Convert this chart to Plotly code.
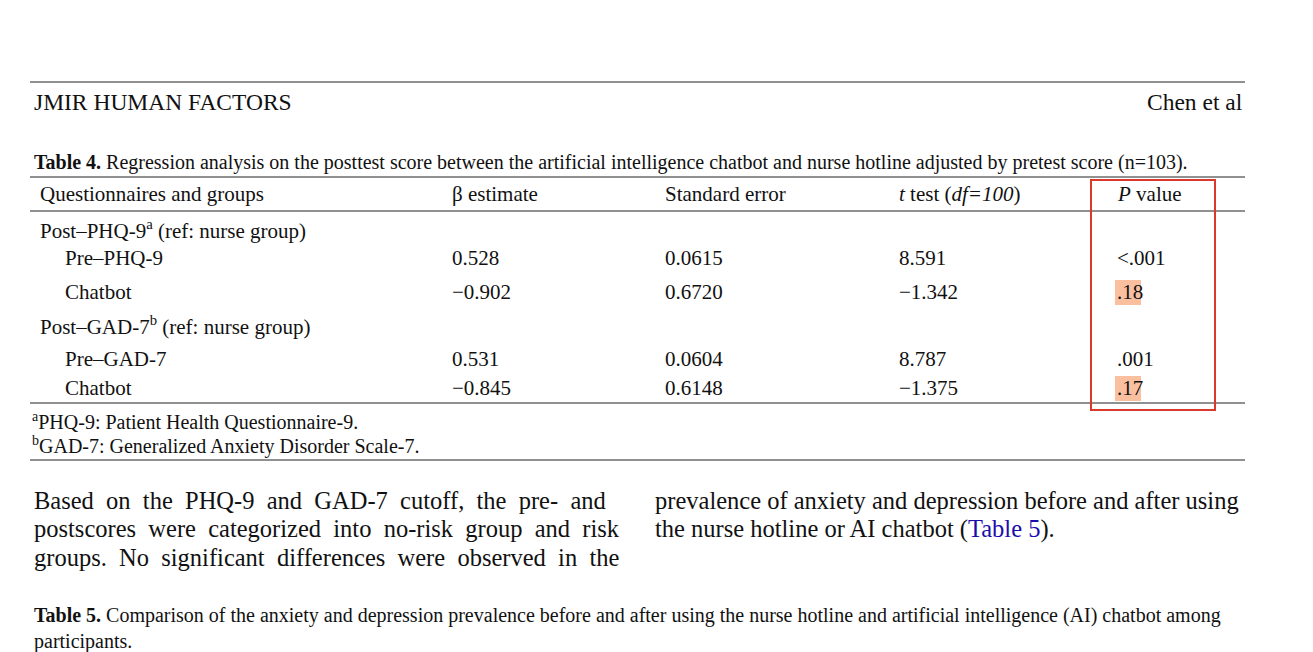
import plotly.graph_objects as go

W, H = 1313, 652
OFF = 8  # page body margin
FONT = "Liberation Serif"

header_cols = ["Questionnaires and groups", "β estimate", "Standard error",
               "<i>t</i> test (<i>df=100</i>)", "<i>P</i> value"]
col_x = [38, 450, 663, 897, 1115]

row_labels = ["Post–PHQ-9<sup>a</sup> (ref: nurse group)", "Pre–PHQ-9", "Chatbot",
              "Post–GAD-7<sup>b</sup> (ref: nurse group)", "Pre–GAD-7", "Chatbot"]
row_indent = [False, True, True, False, True, True]
beta = ["", "0.528", "−0.902", "", "0.531", "−0.845"]
std_err = ["", "0.0615", "0.6720", "", "0.0604", "0.6148"]
t_test = ["", "8.591", "−1.342", "", "8.787", "−1.375"]
p_value = ["", "<.001", ".18", "", ".001", ".17"]
highlighted = [False, False, True, False, False, True]
row_y = [229, 258, 292, 325, 359, 388]

footnotes = ["<sup>a</sup>PHQ-9: Patient Health Questionnaire-9.",
             "<sup>b</sup>GAD-7: Generalized Anxiety Disorder Scale-7."]
left_para = ["Based  on  the  PHQ-9  and  GAD-7  cutoff,  the  pre-  and",
             "postscores  were  categorized  into  no-risk  group  and  risk",
             "groups.  No  significant  differences  were  observed  in  the"]
right_para = ["prevalence of anxiety and depression before and after using",
              "the nurse hotline or AI chatbot (<span style='color:#1a0dab'>Table 5</span>)."]

fig = go.Figure()
shapes, ann = [], []

def txt(x, y, s, size=20, anchor="left"):
    ann.append(dict(x=x, y=y, text=s, showarrow=False, xanchor=anchor, yanchor="middle",
                    font=dict(family=FONT, size=size, color="#111")))

def rule(y):
    shapes.append(dict(type="line", x0=30, x1=1245, y0=y, y1=y,
                       line=dict(color="#222", width=1)))

for y in (82, 177, 211, 403, 460):
    rule(y)

txt(32, 102, "JMIR HUMAN FACTORS", 23.5)
txt(1245, 102, "Chen et al", 23.5, "right")
txt(32, 162, "<b>Table 4.</b> Regression analysis on the posttest score between the artificial "
    "intelligence chatbot and nurse hotline adjusted by pretest score (n=103).", 20)

for x, h in zip(col_x, header_cols):
    txt(x, 194, h, 21)

for i, y in enumerate(row_y):
    if highlighted[i]:
        shapes.append(dict(type="rect", x0=1115, x1=1141, y0=y - 12, y1=y + 13,
                           fillcolor="#f9bf9f", line=dict(width=0), layer="below"))
    txt(63 if row_indent[i] else 38, y, row_labels[i], 21)
    for x, v in zip(col_x[1:], [beta[i], std_err[i], t_test[i], p_value[i]]):
        if v:
            txt(x, y, v.replace("<", "&lt;"), 21)

shapes.append(dict(type="rect", x0=1091, x1=1215, y0=180, y1=410,
                   line=dict(color="#d93a2b", width=2)))

txt(30, 421, footnotes[0], 20)
txt(30, 445, footnotes[1], 20)

for i, line in enumerate(left_para):
    txt(32, 500 + i * 28.5, line.replace("  ", "&nbsp; "), 24.5)
for i, line in enumerate(right_para):
    txt(653, 500 + i * 28.5, line, 24.5)

txt(32, 615, "<b>Table 5.</b> Comparison of the anxiety and depression prevalence before and after "
    "using the nurse hotline and artificial intelligence (AI) chatbot among", 20)
txt(32, 641, "participants.", 20)

fig.update_layout(
    width=W, height=H, margin=dict(l=0, r=0, t=0, b=0),
    paper_bgcolor="white", plot_bgcolor="white",
    xaxis=dict(range=[OFF, W + OFF], visible=False, fixedrange=True),
    yaxis=dict(range=[H + OFF, OFF], visible=False, fixedrange=True),
    shapes=shapes, annotations=ann, showlegend=False,
)
fig.write_html("out.html")
